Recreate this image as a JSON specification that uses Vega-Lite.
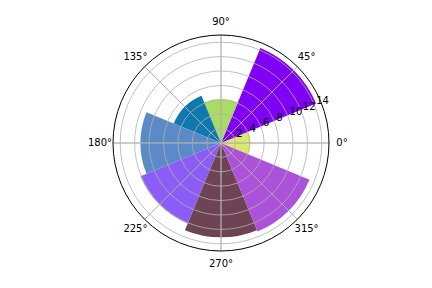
{
  "$schema": "https://vega.github.io/schema/vega-lite/v6.json",
  "width": 422,
  "height": 286,
  "autosize": "none",
  "padding": {"left": 10, "top": 0, "right": 0, "bottom": 2},
  "config": {"view": {"stroke": null}, "font": "DejaVu Sans"},
  "datasets": {
    "bars": [
      {"bar": "b0", "start": -22.5, "end": 22.5, "r": 4.1},
      {"bar": "b1", "start": 22.5, "end": 67.5, "r": 14.3},
      {"bar": "b2", "start": 67.5, "end": 112.5, "r": 6.1},
      {"bar": "b3", "start": 112.5, "end": 157.5, "r": 7.1},
      {"bar": "b4", "start": 157.5, "end": 202.5, "r": 11.2},
      {"bar": "b5", "start": 202.5, "end": 247.5, "r": 12.1},
      {"bar": "b6", "start": 247.5, "end": 292.5, "r": 13.1},
      {"bar": "b7", "start": 292.5, "end": 337.5, "r": 13.3}
    ],
    "rings": [
      {"r": 2, "label": "2"}, {"r": 4, "label": "4"}, {"r": 6, "label": "6"},
      {"r": 8, "label": "8"}, {"r": 10, "label": "10"}, {"r": 12, "label": "12"},
      {"r": 14, "label": "14"}
    ],
    "spine": [{"r": 15}],
    "angles": [
      {"angle": 0, "label": "0°"}, {"angle": 45, "label": "45°"},
      {"angle": 90, "label": "90°"}, {"angle": 135, "label": "135°"},
      {"angle": 180, "label": "180°"}, {"angle": 225, "label": "225°"},
      {"angle": 270, "label": "270°"}, {"angle": 315, "label": "315°"}
    ]
  },
  "layer": [
    {
      "data": {"name": "bars"},
      "mark": {"type": "arc", "strokeWidth": 0},
      "encoding": {
        "theta": {"field": "start", "type": "quantitative", "scale": {"domain": [0, 360], "range": [1.5707963, -4.712389], "zero": false, "nice": false}},
        "theta2": {"field": "end"},
        "radius": {"field": "r", "type": "quantitative", "stack": null, "scale": {"type": "linear", "domain": [0, 15], "range": [0, 108], "zero": true, "nice": false}},
        "color": {"field": "bar", "type": "nominal", "legend": null, "scale": {"domain": ["b0","b1","b2","b3","b4","b5","b6","b7"], "range": ["#dbe96b", "#7f00f5", "#a8dc63", "#0f78ae", "#5b8ac8", "#8b5cf6", "#6e4454", "#ac51d9"]}}
      }
    },
    {
      "data": {"name": "rings"},
      "mark": {"type": "arc", "fill": null, "stroke": "#b0b0b0", "strokeWidth": 0.8},
      "encoding": {
        "theta": {"value": 0},
        "theta2": {"value": 6.3},
        "radius": {"field": "r", "type": "quantitative", "stack": null}
      }
    },
    {
      "data": {"name": "angles"},
      "mark": {"type": "arc", "fill": null, "stroke": "#b0b0b0", "strokeWidth": 0.8},
      "encoding": {
        "theta": {"field": "angle", "type": "quantitative", "stack": null},
        "theta2": {"field": "angle"},
        "radius": {"value": 108}
      }
    },
    {
      "data": {"name": "spine"},
      "mark": {"type": "arc", "fill": null, "stroke": "#000000", "strokeWidth": 1},
      "encoding": {
        "theta": {"value": 0},
        "theta2": {"value": 6.3},
        "radius": {"field": "r", "type": "quantitative", "stack": null}
      }
    },
    {
      "data": {"name": "angles"},
      "mark": {"type": "text", "fontSize": 10, "color": "#000000", "align": "center", "baseline": "middle"},
      "encoding": {
        "theta": {"field": "angle", "type": "quantitative", "stack": null},
        "radius": {"value": 121},
        "text": {"field": "label"}
      }
    },
    {
      "data": {"name": "rings"},
      "mark": {"type": "text", "fontSize": 10, "color": "#000000", "align": "left", "baseline": "bottom", "dx": 2, "dy": 2},
      "encoding": {
        "theta": {"datum": 22.5, "type": "quantitative"},
        "radius": {"field": "r", "type": "quantitative", "stack": null},
        "text": {"field": "label"}
      }
    }
  ]
}
